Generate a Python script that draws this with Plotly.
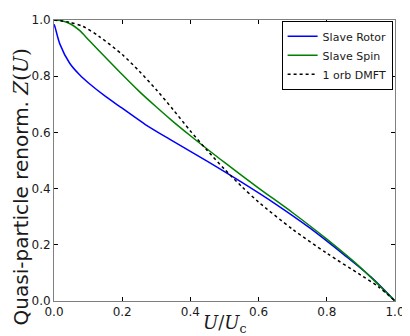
import plotly.graph_objects as go

# Slave Rotor
rotor_x = [0, 0.003, 0.017, 0.046, 0.075, 0.104, 0.152, 0.2, 0.268, 0.35, 0.45, 0.55, 0.65, 0.75, 0.85, 0.93, 1.0]
rotor_y = [0.985, 0.975, 0.915, 0.846, 0.805, 0.773, 0.727, 0.686, 0.628, 0.568, 0.497, 0.423, 0.345, 0.260, 0.165, 0.085, 0.0]

# Slave Spin
spin_x = [0, 0.02, 0.05, 0.075, 0.104, 0.152, 0.2, 0.249, 0.297, 0.345, 0.4, 0.45, 0.5, 0.6, 0.7, 0.8, 0.9, 1.0]
spin_y = [1.0, 0.998, 0.985, 0.963, 0.926, 0.866, 0.806, 0.747, 0.694, 0.643, 0.588, 0.540, 0.493, 0.402, 0.314, 0.220, 0.118, 0.0]

# 1 orb DMFT
dmft_x = [0, 0.046, 0.085, 0.133, 0.2, 0.25, 0.3, 0.35, 0.4, 0.45, 0.5, 0.55, 0.6, 0.7, 0.8, 0.9, 0.95, 1.0]
dmft_y = [1.0, 0.992, 0.977, 0.941, 0.877, 0.818, 0.752, 0.680, 0.605, 0.535, 0.469, 0.408, 0.352, 0.255, 0.170, 0.092, 0.052, 0.0]

tick_vals = [0.0, 0.2, 0.4, 0.6, 0.8, 1.0]
tick_text = ["0.0", "0.2", "0.4", "0.6", "0.8", "1.0"]

fig = go.Figure()
fig.add_trace(go.Scatter(x=rotor_x, y=rotor_y, mode="lines", name="Slave Rotor",
                         line=dict(color="#0000ff", width=1.5, shape="spline", smoothing=0.8)))
fig.add_trace(go.Scatter(x=spin_x, y=spin_y, mode="lines", name="Slave Spin",
                         line=dict(color="#008000", width=1.5, shape="spline", smoothing=0.8)))
fig.add_trace(go.Scatter(x=dmft_x, y=dmft_y, mode="lines", name="1 orb DMFT",
                         line=dict(color="#000000", width=1.5, dash="3px,3px", shape="spline", smoothing=0.8)))

axis_common = dict(
    range=[0, 1], tickvals=tick_vals, ticktext=tick_text,
    ticks="inside", ticklen=4, tickcolor="#000000", tickwidth=1,
    showline=True, linecolor="#808080", linewidth=1, mirror="ticks",
    showgrid=False, zeroline=False, ticklabeloverflow="allow",
    tickfont=dict(family="DejaVu Sans", size=12, color="#1a1a1a"),
)

fig.update_xaxes(**axis_common)
fig.update_yaxes(**axis_common)

fig.add_annotation(
    text="<i>U</i>/<i>U</i><sub>c</sub>",
    xref="paper", yref="paper", x=0.5, y=-0.083,
    xanchor="center", yanchor="middle", showarrow=False,
    font=dict(family="DejaVu Serif", size=18, color="#1a1a1a"),
)
fig.add_annotation(
    text="Quasi-particle renorm. <span style=\"font-family:DejaVu Serif\"><i>Z</i>(<i>U</i>)</span>",
    xref="paper", yref="paper", x=-0.0983, y=0.406,
    xanchor="center", yanchor="middle", showarrow=False, textangle=-90,
    font=dict(family="DejaVu Sans", size=20, color="#1a1a1a"),
)

# page body has an 8px margin; size/margins compensate for it
fig.update_layout(
    width=402, height=328,
    margin=dict(l=46, r=10, t=5, b=35),
    paper_bgcolor="white", plot_bgcolor="white",
    showlegend=True,
    legend=dict(x=0.993, y=0.997, xanchor="right", yanchor="top",
                bgcolor="white", bordercolor="#000000", borderwidth=1,
                font=dict(family="DejaVu Sans", size=11, color="#1a1a1a"),
                itemwidth=30, tracegroupgap=0),
)

fig.write_html("out.html")
